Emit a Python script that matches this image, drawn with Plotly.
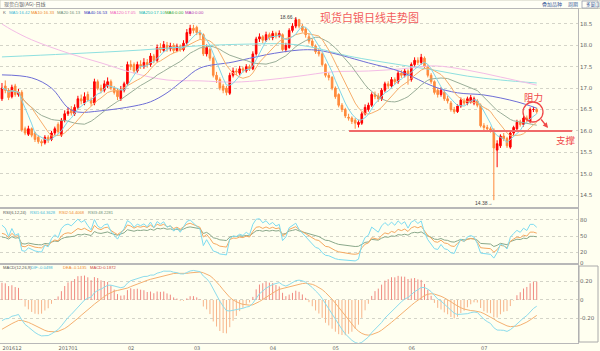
import numpy as np
import pandas as pd
import plotly.graph_objects as go

# ---------------- data ----------------
open_ = [16.75,17.05,16.95,16.80,17.05,16.85,16.90,16.05,15.92,16.05,15.95,15.85,15.75,15.72,15.85,15.80,15.95,16.15,15.90,16.25,
         16.40,16.50,16.40,16.55,16.75,16.65,16.85,16.72,16.65,17.15,17.00,16.95,17.05,17.15,17.00,16.95,16.75,16.95,17.10,17.55,
         17.55,17.40,17.55,17.50,17.60,17.55,17.75,17.65,17.95,17.88,18.00,17.92,18.00,17.88,17.98,17.90,18.05,18.28,18.40,18.42,
         18.30,18.25,17.80,17.90,17.70,17.30,17.20,17.05,17.00,16.88,17.30,17.40,17.35,17.45,17.40,17.50,17.45,17.80,18.15,18.20,
         18.12,18.25,18.18,18.28,18.22,18.25,17.90,17.95,18.35,18.45,18.60,18.45,18.38,18.20,18.10,17.98,17.85,17.80,17.55,17.30,
         17.25,17.00,16.85,16.60,16.50,16.32,16.30,16.25,16.15,16.18,16.40,16.50,16.60,16.85,16.82,16.75,16.95,17.10,17.05,17.20,
         17.15,17.35,17.30,17.40,17.20,17.55,17.65,17.60,17.70,17.50,17.30,17.15,16.95,16.85,16.90,16.75,16.65,16.50,16.45,16.58,
         16.70,16.65,16.68,16.65,16.70,16.60,16.12,16.08,16.05,16.02,15.55,15.65,15.88,15.82,15.62,15.95,16.05,16.20,16.15,16.30,
         16.22,16.50,16.50]
high = [17.12,17.18,17.00,17.08,17.10,16.98,16.95,16.10,16.12,16.08,15.98,15.90,15.80,15.90,15.90,16.00,16.10,16.20,16.30,16.48,
        16.55,16.58,16.62,16.82,16.85,16.90,16.92,16.78,17.22,17.20,17.08,17.18,17.25,17.20,17.05,17.00,17.05,17.15,17.62,17.65,
        17.60,17.62,17.65,17.70,17.68,17.82,17.80,18.02,18.05,18.10,18.08,18.06,18.05,18.04,18.02,18.12,18.38,18.48,18.48,18.46,
        18.36,18.28,18.02,17.95,17.74,17.38,17.25,17.10,17.05,17.36,17.48,17.46,17.52,17.50,17.56,17.55,17.86,18.20,18.28,18.24,
        18.32,18.30,18.34,18.32,18.35,18.28,18.06,18.40,18.52,18.66,18.62,18.50,18.42,18.28,18.15,18.02,17.92,17.84,17.58,17.36,
        17.28,17.04,16.88,16.65,16.54,16.40,16.34,16.30,16.26,16.45,16.62,16.66,16.90,16.92,16.88,17.00,17.15,17.16,17.26,17.25,
        17.40,17.42,17.46,17.44,17.60,17.72,17.72,17.80,17.74,17.55,17.35,17.18,17.00,17.02,16.95,16.82,16.70,16.56,16.62,16.78,
        16.76,16.80,16.84,16.80,16.74,16.64,16.18,16.14,16.10,16.06,15.78,15.92,15.95,15.86,16.00,16.12,16.26,16.26,16.35,16.36,
        16.55,16.56,16.54]
low = [16.70,16.88,16.72,16.76,16.80,16.80,15.98,15.90,15.88,15.85,15.74,15.70,15.64,15.68,15.72,15.76,15.90,15.92,15.86,16.20,
       16.35,16.36,16.35,16.50,16.62,16.60,16.68,16.58,16.60,16.95,16.88,16.90,17.00,16.95,16.85,16.72,16.70,16.90,17.05,17.42,
       17.35,17.36,17.45,17.45,17.48,17.50,17.58,17.60,17.82,17.84,17.85,17.86,17.82,17.84,17.85,17.86,18.00,18.22,18.28,18.24,
       18.15,17.75,17.74,17.64,17.25,17.12,16.95,16.88,16.83,16.84,17.25,17.30,17.30,17.36,17.36,17.40,17.42,17.76,18.08,18.05,
       18.08,18.12,18.12,18.16,18.18,17.86,17.84,17.92,18.30,18.40,18.40,18.30,18.18,18.04,17.95,17.80,17.74,17.50,17.25,17.18,
       16.95,16.75,16.55,16.44,16.30,16.24,16.16,16.05,16.08,16.14,16.36,16.45,16.56,16.74,16.68,16.70,16.90,16.98,17.00,17.08,
       17.10,17.24,17.25,17.08,17.15,17.50,17.54,17.55,17.45,17.25,17.10,16.85,16.78,16.80,16.70,16.64,16.45,16.40,16.42,16.54,
       16.60,16.60,16.64,16.60,16.55,16.08,16.02,16.00,15.96,14.38,15.15,15.60,15.76,15.60,15.58,15.90,16.00,16.10,16.10,16.20,
       16.18,16.44,16.40]
close = [17.00,16.95,16.78,17.02,16.85,16.90,16.02,15.95,16.05,15.90,15.80,15.75,15.72,15.85,15.78,15.95,16.05,15.98,16.25,16.40,
         16.45,16.42,16.55,16.75,16.70,16.80,16.72,16.65,17.15,17.00,16.95,17.10,17.15,17.00,16.90,16.80,16.95,17.10,17.55,17.50,
         17.40,17.55,17.52,17.60,17.55,17.75,17.65,17.95,17.90,18.02,17.92,17.98,17.88,17.98,17.90,18.05,18.30,18.40,18.35,18.30,
         18.25,17.80,17.95,17.70,17.30,17.20,17.00,16.95,16.90,17.30,17.40,17.38,17.45,17.42,17.50,17.45,17.80,18.15,18.20,18.12,
         18.25,18.18,18.28,18.22,18.28,17.90,18.00,18.35,18.45,18.60,18.45,18.35,18.25,18.10,18.00,17.85,17.80,17.55,17.30,17.25,
         17.00,16.80,16.60,16.50,16.35,16.30,16.22,16.18,16.20,16.40,16.55,16.60,16.85,16.80,16.75,16.95,17.10,17.05,17.20,17.15,
         17.35,17.30,17.40,17.30,17.55,17.65,17.60,17.72,17.50,17.30,17.15,16.90,16.85,16.95,16.75,16.70,16.50,16.45,16.58,16.72,
         16.65,16.75,16.78,16.75,16.60,16.12,16.08,16.05,16.02,15.60,15.70,15.88,15.82,15.65,15.95,16.08,16.20,16.15,16.30,16.25,
         16.50,16.50,16.45]
idx = list(range(len(close)))

month_start_idx = [0, 17, 38, 58, 81, 100, 123, 145]
month_labels = ["201612", "201701", "02", "03", "04", "05", "06", "07"]

# long moving averages (sparse points)
ma40_idx = [0, 9, 15, 20, 23, 30, 40, 45, 50, 55, 60, 70, 80, 90, 95, 100, 111, 121, 131, 138, 146, 156, 162]
ma40_val = [17.31, 17.24, 17.00, 16.54, 16.44, 16.47, 16.58, 16.68, 16.89, 17.19, 17.47, 17.61, 17.78, 17.89, 17.89,
            17.82, 17.59, 17.38, 17.03, 16.89, 16.84, 16.68, 16.53]
ma120_idx = [0, 3, 9, 20, 30, 40, 50, 60, 70, 80, 90, 100, 111, 121, 131, 141, 151, 162]
ma120_val = [18.50, 18.36, 18.13, 17.82, 17.59, 17.35, 17.19, 17.17, 17.14, 17.19, 17.28, 17.38, 17.40, 17.45, 17.52,
             17.42, 17.26, 17.07]
ma250_idx = [0, 20, 42, 60, 75, 87, 95, 105, 121, 131, 141, 151, 162]
ma250_val = [17.73, 17.80, 17.89, 17.99, 18.03, 18.03, 17.94, 17.75, 17.54, 17.42, 17.28, 17.19, 17.12]

# indicator seeds (values at the left edge)
RSI_PERIODS = [6, 12, 24]
RSI_SEED = [70, 55, 48]
RSI_ABS_SEED = 0.12
MACD_SEED = (16.90, 17.15, -0.34)   # ema12, ema26, dea

ma_legend = [("K", "#666666", 1), ("MA5:16.42", "#3fb8d8", 7), ("MA10:16.33", "#f08a2a", 29),
             ("MA20:16.13", "#6f8f78", 55), ("MA40:16.53", "#3838c0", 82), ("MA120:17.05", "#f060c0", 108),
             ("MA250:17.10", "#20b8b8", 137), ("MA6:0.00", "#30a030", 163), ("MA0:0.00", "#b030b0", 183)]
rsi_legend = [("RSI(6,12,24)", "#555555", 1), ("RSI1:64.3628", "#3fb8d8", 28),
              ("RSI2:54.4068", "#f08a2a", 57), ("RSI3:48.2281", "#6f8f78", 86)]
macd_legend = [("MACD(12,26,9)", "#555555", 1), ("DIF:-0.0498", "#3fb8d8", 29),
               ("DEA:-0.1435", "#f08a2a", 61), ("MACD:0.1872", "#cc4444", 88)]

# ---------------- indicators ----------------
c = np.array(close)
s = pd.Series(c)
ma5 = s.rolling(5, min_periods=1).mean()
ma10 = s.rolling(10, min_periods=1).mean()
ma20 = s.rolling(20, min_periods=1).mean()


def rsi(n, seed):
    up = seed / 100 * RSI_ABS_SEED
    ab = RSI_ABS_SEED
    out = [seed]
    for i in range(1, len(c)):
        d = c[i] - c[i - 1]
        up = (max(d, 0) + (n - 1) * up) / n
        ab = (abs(d) + (n - 1) * ab) / n
        out.append(100 * up / ab if ab > 0 else 50)
    return out


rsis = [rsi(n, sd) for n, sd in zip(RSI_PERIODS, RSI_SEED)]

e12, e26, dea = MACD_SEED
dif_l, dea_l = [], []
for v in c:
    e12 = (2 * v + 11 * e12) / 13
    e26 = (2 * v + 25 * e26) / 27
    d = e12 - e26
    dea = (2 * d + 8 * dea) / 10
    dif_l.append(d)
    dea_l.append(dea)
macd_h = [2 * (a - b) for a, b in zip(dif_l, dea_l)]

# ---------------- figure ----------------
W, H = 600, 351
BG = "#fffff0"
XR = [-0.6, 174.5]


def ydom(top, bot):
    return [(H - bot) / H, (H - top) / H]


def px(x):
    return x / W


def py(y):
    return 1 - y / H


fig = go.Figure()
fig.add_trace(go.Candlestick(x=idx, open=open_, high=high, low=low, close=close,
                             increasing=dict(line=dict(color="#ff0000", width=1), fillcolor="#ff0000"),
                             decreasing=dict(line=dict(color="#ff8a3c", width=1), fillcolor="#ff8a3c"),
                             whiskerwidth=0, xaxis="x", yaxis="y", showlegend=False, hoverinfo="skip"))
for xs, ys, col, shp in [(ma250_idx, ma250_val, "#8ee0e0", "spline"), (ma120_idx, ma120_val, "#f4bce6", "spline"),
                         (ma40_idx, ma40_val, "#6e6ed6", "spline"), (idx, ma20, "#9aae98", "linear"),
                         (idx, ma10, "#f7ae6c", "linear"), (idx, ma5, "#7fd6ea", "linear")]:
    fig.add_trace(go.Scatter(x=xs, y=ys, mode="lines", line=dict(color=col, width=1, shape=shp),
                             xaxis="x", yaxis="y", showlegend=False, hoverinfo="skip"))

for vals, col in zip(rsis[::-1], ["#8aa88a", "#f5a860", "#7ddcf0"]):
    fig.add_trace(go.Scatter(x=idx, y=vals, mode="lines", line=dict(color=col, width=1),
                             xaxis="x2", yaxis="y2", showlegend=False, hoverinfo="skip"))

# MACD histogram as thin vertical sticks
for positive, col in [(True, "#f08a80"), (False, "#f7b48a")]:
    hx, hy = [], []
    for i, v in zip(idx, macd_h):
        if (v >= 0) == positive:
            hx += [i, i, None]
            hy += [0, v, None]
    fig.add_trace(go.Scatter(x=hx, y=hy, mode="lines", line=dict(color=col, width=1),
                             xaxis="x3", yaxis="y3", showlegend=False, hoverinfo="skip"))
fig.add_trace(go.Scatter(x=idx, y=dea_l, mode="lines", line=dict(color="#f5b070", width=1),
                         xaxis="x3", yaxis="y3", showlegend=False, hoverinfo="skip"))
fig.add_trace(go.Scatter(x=idx, y=dif_l, mode="lines", line=dict(color="#8ddcec", width=1),
                         xaxis="x3", yaxis="y3", showlegend=False, hoverinfo="skip"))

axline = dict(showline=True, mirror=True, linecolor="#b8b8b8", linewidth=1, zeroline=False)
xcommon = dict(range=XR, domain=[0, 578 / W], showgrid=False, ticks="", **axline)
tickf = dict(size=5.5, color="#666666", family="DejaVu Sans")
ycommon = dict(side="right", ticks="", showgrid=True, gridcolor="#d4d4c8", griddash="dot",
               gridwidth=1, tickfont=tickf, **axline)

fig.update_layout(
    width=W, height=H, margin=dict(l=0, r=0, t=0, b=0), template="none",
    paper_bgcolor=BG, plot_bgcolor=BG,
    xaxis=dict(anchor="y", showticklabels=False, rangeslider=dict(visible=False), **xcommon),
    xaxis2=dict(anchor="y2", showticklabels=False, **xcommon),
    xaxis3=dict(anchor="y3", tickvals=month_start_idx, ticktext=month_labels,
                ticklabelposition="outside right", tickfont=dict(size=5, color="#666666", family="DejaVu Sans"),
                **xcommon),
    yaxis=dict(anchor="x", domain=ydom(9, 207), range=[14.22, 18.85],
               tickvals=[14.5, 15, 15.5, 16, 16.5, 17, 17.5, 18, 18.5], tickformat=".1f", **ycommon),
    yaxis2=dict(anchor="x2", domain=ydom(209, 263), range=[0, 100], tickvals=[0, 20, 50, 80], **ycommon),
    yaxis3=dict(anchor="x3", domain=ydom(265, 343), range=[-0.465, 0.378], tickvals=[-0.2, 0, 0.2],
                ticktext=["-0.20", "0", "0.20"], **ycommon),
)

shapes = [
    dict(type="rect", xref="paper", yref="paper", x0=0, x1=1, y0=py(8.5), y1=1,
         line=dict(color="#cfcfc0", width=1), fillcolor="#fffff6", layer="below"),
    dict(type="line", xref="x", yref="y", x0=(349 - 2) / 3.3, x1=(572 - 2) / 3.3, y0=16.0, y1=16.0,
         line=dict(color="#f06a6a", width=2)),
    dict(type="circle", xref="paper", yref="paper", x0=px(523), x1=px(543), y0=py(122), y1=py(102),
         line=dict(color="#f04848", width=1.3)),
    dict(type="rect", xref="paper", yref="paper", x0=px(579), x1=px(598), y0=py(342), y1=py(266),
         line=dict(color="#aaaaaa", width=1)),
    dict(type="rect", xref="paper", yref="paper", x0=px(582), x1=px(598), y0=py(8), y1=py(1),
         line=dict(color="#9aa0b0", width=0.8)),
]
fig.update_layout(shapes=shapes)

ann = []


def txt(x, y, t, col, size, anchor="left", fam="Liberation Sans"):
    ann.append(dict(x=px(x), y=py(y), xref="paper", yref="paper", text=t, showarrow=False,
                    xanchor=anchor, yanchor="middle", font=dict(size=size, color=col, family=fam)))


for t, col, x in ma_legend:
    txt(x, 12.5, t, col, 4.3)
for t, col, x in rsi_legend:
    txt(x, 213, t, col, 4.1)
for t, col, x in macd_legend:
    txt(x, 267.5, t, col, 4.1)

cjk = "Noto Sans CJK SC"
txt(2, 4, "现货白银(AG)-日线", "#666666", 5, fam=cjk)
txt(540, 4, "叠加品种", "#3a5a9a", 5, fam=cjk)
txt(566, 4, "周期", "#3a5a9a", 5, fam=cjk)
txt(584, 4.5, "多窗口", "#3a5a9a", 4.5, fam=cjk)
txt(318, 17, "现货白银日线走势图", "#f25c5c", 11, fam=cjk)
txt(522, 97, "阻力", "#f04848", 9.5, fam=cjk)
txt(554, 140, "支撑", "#f04848", 9.5, fam=cjk)
txt(300, 17, "18.66→", "#444444", 5, anchor="right")
txt(495, 203, "14.38→", "#444444", 5, anchor="right")

ann.append(dict(x=px(548), y=py(128), ax=-8, ay=-10, xref="paper", yref="paper",
                axref="pixel", ayref="pixel", text="", showarrow=True, arrowhead=2, arrowsize=0.8,
                arrowwidth=1.3, arrowcolor="#f04848"))
fig.update_layout(annotations=ann)

fig.write_html("out.html")
